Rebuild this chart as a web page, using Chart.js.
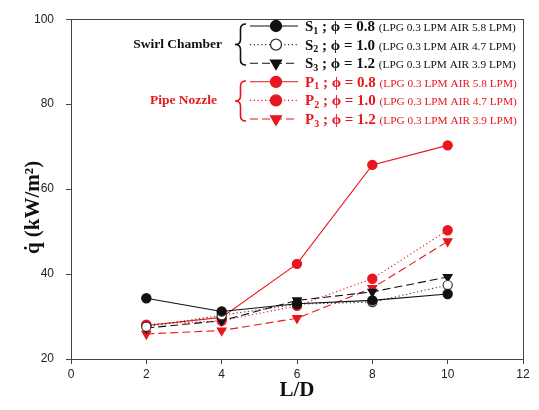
<!DOCTYPE html>
<html>
<head>
<meta charset="utf-8">
<script src="https://cdn.jsdelivr.net/npm/chart.js@4"></script>
<style>
  html, body { margin: 0; padding: 0; background: #fff; }
  #wrap { width: 539px; height: 410px; }
</style>
</head>
<body>
<div id="wrap"><canvas id="chart" width="539" height="410"></canvas></div>
<script>
// L/D positions and heat flux values (kW/m2)
const ldRatio = [2, 4, 6, 8, 10];
const swirl1 = [34.3, 31.2, 33.0, 33.8, 35.3];
const swirl2 = [27.6, 30.3, 32.9, 33.4, 37.4];
const swirl3 = [27.3, 29.0, 33.8, 35.8, 39.3];
const pipe1 = [27.9, 29.8, 42.4, 65.7, 70.3];
const pipe2 = [28.1, 29.0, 32.5, 38.9, 50.3];
const pipe3 = [25.9, 26.7, 29.6, 36.7, 47.7];

const seriesLetters = ['S', 'S', 'S', 'P', 'P', 'P'];
const seriesIndex = ['1', '2', '3', '1', '2', '3'];
const phiValues = ['0.8', '1.0', '1.2', '0.8', '1.0', '1.2'];
const flowNotes = ['(LPG 0.3 LPM AIR 5.8 LPM)', '(LPG 0.3 LPM AIR 4.7 LPM)', '(LPG 0.3 LPM AIR 3.9 LPM)',
                   '(LPG 0.3 LPM AIR 5.8 LPM)', '(LPG 0.3 LPM AIR 4.7 LPM)', '(LPG 0.3 LPM AIR 3.9 LPM)'];
const groupNames = ['Swirl Chamber', 'Pipe Nozzle'];
const xTicks = [0, 2, 4, 6, 8, 10, 12];
const yTicks = [20, 40, 60, 80, 100];

const BLACK = '#111111';
const RED = '#e8161e';
const SERIF = '"Liberation Serif", "Times New Roman", serif';

function pts(vals) {
  return vals.map((v, i) => ({ x: ldRatio[i], y: v }));
}

function series(vals, color, dash, style, fill, rot) {
  return {
    data: pts(vals),
    borderColor: color,
    borderWidth: 1.1,
    borderDash: dash,
    pointStyle: style,
    pointRotation: rot || 0,
    pointRadius: style === 'triangle' ? 5 : 4.6,
    pointBackgroundColor: fill,
    pointBorderColor: color,
    pointBorderWidth: 1.2,
    showLine: true,
    fill: false,
    tension: 0
  };
}

const datasets = [
  series(swirl1, BLACK, [], 'circle', BLACK),
  series(swirl2, '#333333', [1.2, 2.6], 'circle', '#ffffff'),
  series(swirl3, BLACK, [8, 4], 'triangle', BLACK, 180),
  series(pipe1, RED, [], 'circle', RED),
  series(pipe2, RED, [1.2, 2.6], 'circle', RED),
  series(pipe3, RED, [8, 4], 'triangle', RED, 180)
];

function drawBrace(ctx, x, yTop, yBot, color) {
  const w = 11, mid = (yTop + yBot) / 2, xm = x + w / 2;
  ctx.save();
  ctx.strokeStyle = color;
  ctx.lineWidth = 1.6;
  ctx.beginPath();
  ctx.moveTo(x + w, yTop);
  ctx.quadraticCurveTo(xm, yTop, xm, yTop + 5);
  ctx.lineTo(xm, mid - 5);
  ctx.quadraticCurveTo(xm, mid, x, mid);
  ctx.quadraticCurveTo(xm, mid, xm, mid + 5);
  ctx.lineTo(xm, yBot - 5);
  ctx.quadraticCurveTo(xm, yBot, x + w, yBot);
  ctx.stroke();
  ctx.restore();
}

const frameAndLegend = {
  id: 'frameAndLegend',
  afterDraw(chart) {
    const { ctx, chartArea: a } = chart;
    ctx.save();
    ctx.strokeStyle = '#444';
    ctx.lineWidth = 1;
    ctx.strokeRect(Math.round(a.left) + 0.5, Math.round(a.top) + 0.5,
      Math.round(a.right - a.left), Math.round(a.bottom - a.top));

    const helpers = Chart.helpers;
    const lineX0 = 250, lineX1 = 298, markX = 276, textX = 305;
    chart.data.datasets.forEach((ds, i) => {
      const y = 26 + i * 18.6;
      ctx.save();
      ctx.strokeStyle = ds.borderColor;
      ctx.lineWidth = ds.borderWidth;
      ctx.setLineDash(ds.borderDash);
      ctx.beginPath();
      ctx.moveTo(lineX0, y);
      ctx.lineTo(lineX1, y);
      ctx.stroke();
      ctx.setLineDash([]);
      ctx.fillStyle = ds.pointBackgroundColor;
      ctx.strokeStyle = ds.pointBorderColor;
      ctx.lineWidth = 1.3;
      helpers.drawPoint(ctx, {
        pointStyle: ds.pointStyle,
        rotation: ds.pointRotation,
        radius: ds.pointStyle === 'triangle' ? 6.3 : 5.5,
        borderWidth: 1.3
      }, markX, y);
      ctx.restore();

      const color = i < 3 ? BLACK : RED;
      const base = y + 5;
      ctx.fillStyle = color;
      ctx.textAlign = 'left';
      ctx.textBaseline = 'alphabetic';
      let x = textX;
      ctx.font = 'bold 15px ' + SERIF;
      ctx.fillText(seriesLetters[i], x, base);
      x += ctx.measureText(seriesLetters[i]).width;
      ctx.font = 'bold 10px ' + SERIF;
      ctx.fillText(seriesIndex[i], x, base + 2.5);
      x += ctx.measureText(seriesIndex[i]).width;
      ctx.font = 'bold 15px ' + SERIF;
      const main = ' ; \u03D5 = ' + phiValues[i] + ' ';
      ctx.fillText(main, x, base);
      x += ctx.measureText(main).width;
      ctx.font = '11.3px ' + SERIF;
      ctx.fillText(flowNotes[i], x, base);
    });

    ctx.font = 'bold 13.5px ' + SERIF;
    ctx.textAlign = 'right';
    ctx.textBaseline = 'middle';
    ctx.fillStyle = BLACK;
    ctx.fillText(groupNames[0], 222, 45);
    ctx.fillStyle = RED;
    ctx.fillText(groupNames[1], 217, 101);
    drawBrace(ctx, 235, 24, 65, BLACK);
    drawBrace(ctx, 235, 81, 121, RED);
    ctx.restore();
  }
};

const tickFont = { family: '"Liberation Sans", Arial, sans-serif', size: 12 };

new Chart(document.getElementById('chart'), {
  type: 'scatter',
  data: { datasets: datasets },
  options: {
    responsive: false,
    animation: false,
    layout: { padding: { top: 15, right: 16, left: 0, bottom: 0 } },
    plugins: { legend: { display: false }, tooltip: { enabled: false } },
    scales: {
      x: {
        type: 'linear',
        min: 0,
        max: 12,
        afterBuildTicks: s => { s.ticks = xTicks.map(v => ({ value: v })); },
        afterFit: s => { s.height = 51; },
        ticks: { color: '#222', font: tickFont, padding: 3 },
        grid: { drawOnChartArea: false, tickLength: 5, color: '#444' },
        border: { color: '#444' },
        title: {
          display: true,
          text: 'L/D',
          color: '#111',
          font: { family: SERIF, size: 21, weight: 'bold', lineHeight: 1 },
          padding: { top: 0, bottom: 9 }
        }
      },
      y: {
        min: 20,
        max: 100,
        afterBuildTicks: s => { s.ticks = yTicks.map(v => ({ value: v })); },
        afterFit: s => { s.width = 71; },
        ticks: { color: '#222', font: tickFont, padding: 12 },
        grid: { drawOnChartArea: false, tickLength: 5, color: '#444' },
        border: { color: '#444' },
        title: {
          display: true,
          // trailing spaces push the centred title a little below the axis middle, as in the source
          text: 'q\u0307 (kW/m\u00B2)       ',
          color: '#111',
          font: { family: SERIF, size: 21, weight: 'bold', lineHeight: 1 },
          padding: { top: 23, bottom: 0 }
        }
      }
    }
  },
  plugins: [frameAndLegend]
});
</script>
</body>
</html>
